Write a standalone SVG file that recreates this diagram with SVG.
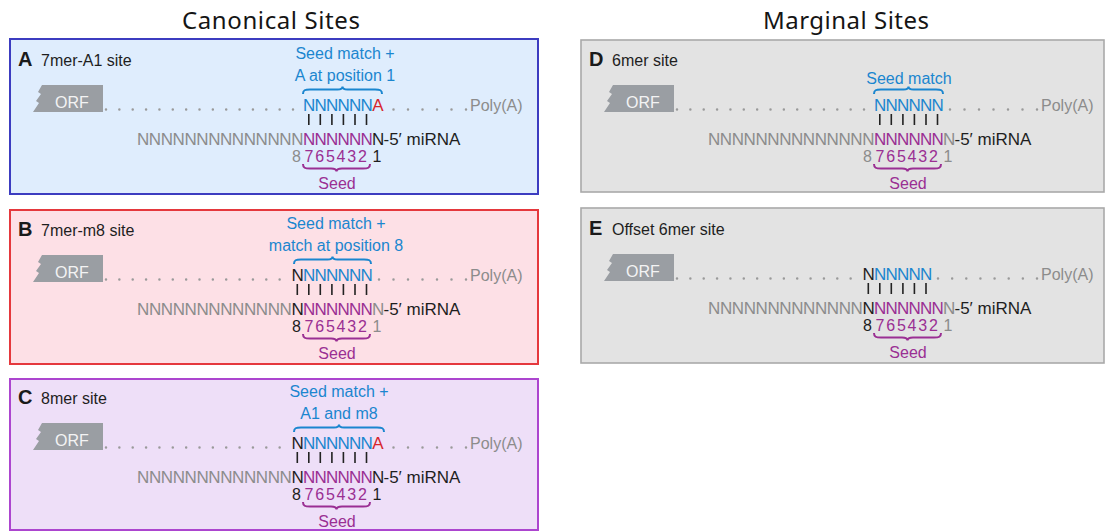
<svg xmlns="http://www.w3.org/2000/svg" xmlns:xlink="http://www.w3.org/1999/xlink" width="1106" height="532" viewBox="0 0 1106 532">
  <style>
    text { font-family: "Liberation Sans", Arial, sans-serif; font-size: 16px; }
    .sq { font-size: 17px; }
    .head { font-family: "Noto Sans", "Open Sans", sans-serif; font-size: 24px; fill: #151515; text-anchor: middle; }
    .lbl { font-size: 20px; font-weight: bold; fill: #1a1a1a; }
    .ttl { fill: #1e1e1e; }
    .ann { fill: #1b86cf; text-anchor: middle; }
    .g { fill: #8c8c8c; }
    .k { fill: #1e1e1e; }
    .b { fill: #1b86cf; }
    .p { fill: #9a2f93; }
    .r { fill: #d7262b; }
    .seedlbl { fill: #9a2f93; text-anchor: middle; }
    .dots { stroke: #9a9a9a; stroke-width: 2.5; stroke-linecap: round; fill: none; }
    .bar { stroke: #222; stroke-width: 1.6; fill: none; }
    .brace-b { fill: none; stroke: #1b86cf; stroke-width: 2; }
    .brace-p { fill: none; stroke: #9a2f93; stroke-width: 2; }
    .fa { fill: #dfedfd; stroke: #3c3cc0; stroke-width: 2; }
    .fb { fill: #fde0e6; stroke: #e5383d; stroke-width: 2; }
    .fc { fill: #eedff8; stroke: #ac45cf; stroke-width: 2; }
    .fd { fill: #e3e3e3; stroke: #a9a9a9; stroke-width: 1.6; }
  </style>
  <defs>
    <!-- torn-edge ORF tag -->
    <g id="orf">
      <polygon points="42,85 103,85 103,112 33,112 39,103 36,101 41,94 38,92" fill="#9a9ea3"/>
      <text x="55" y="108" fill="#f3f3f3">ORF</text>
    </g>
    <!-- seed brace under positions 7-2 -->
    <path id="seed-brace" class="brace-p" d="M303,164 C303,168 305,168.5 310,168.5 L331,168.5 C334.5,168.5 336.5,169 336.5,171.5 C336.5,169 338.5,168.5 342,168.5 L363,168.5 C368,168.5 370,168 370,164"/>
  </defs>

  <text class="head" x="271" y="29" textLength="178" lengthAdjust="spacing">Canonical Sites</text>
  <text class="head" x="846" y="29" textLength="166" lengthAdjust="spacing">Marginal Sites</text>

  <!-- A: 7mer-A1 -->
  <g id="panel-a">
    <rect class="fa" x="10" y="39" width="528" height="155"/>
    <text class="lbl" x="18" y="66">A</text>
    <text class="ttl" x="41" y="66">7mer-A1 site</text>
    <text class="ann" x="345" y="59">Seed match +</text>
    <text class="ann" x="345" y="80.5">A at position 1</text>
    <path class="brace-b" d="M303,94 C303,90 305,89.5 310,89.5 L337.5,89.5 C340.5,89.5 342.5,89 342.5,86.5 C342.5,89 344.5,89.5 347.5,89.5 L375,89.5 C380,89.5 382,90 382,94"/>
    <use xlink:href="#orf"/>
    <line class="dots" x1="106" y1="109.5" x2="293.1" y2="109.5" stroke-dasharray="0 13.357"/>
    <text class="sq" y="111"><tspan class="b" x="303 314.5 326 337.5 349 360.5">NNNNNN</tspan><tspan class="r" x="372.3">A</tspan></text>
    <line class="dots" x1="393.5" y1="109.5" x2="466.1" y2="109.5" stroke-dasharray="0 14.5"/>
    <text class="g" x="470" y="111">Poly(A)</text>
    <path class="bar" d="M308.8,114V125 M320.3,114V125 M331.9,114V125 M343.4,114V125 M355,114V125 M366.5,114V125"/>
    <text class="sq" y="145"><tspan class="g" x="137 148.86 160.71 172.57 184.43 196.29 208.14 220 231.86 243.71 255.57 267.43 279.29 291.14">NNNNNNNNNNNNNN</tspan><tspan class="p" x="303 314.5 326 337.5 349 360.5">NNNNNN</tspan><tspan class="k" x="372 383.5">N-5′ miRNA</tspan></text>
    <text y="162"><tspan class="g" x="292">8</tspan><tspan class="p" x="304.5 315.2 325.9 336.6 347.3 358">765432</tspan><tspan class="k" x="372.5">1</tspan></text>
    <use xlink:href="#seed-brace"/>
    <text class="seedlbl" x="337" y="189">Seed</text>
  </g>

  <!-- B: 7mer-m8 -->
  <g id="panel-b" transform="translate(0,170)">
    <rect class="fb" x="10" y="40" width="528" height="154"/>
    <text class="lbl" x="18" y="66">B</text>
    <text class="ttl" x="41" y="66">7mer-m8 site</text>
    <text class="ann" x="336" y="59">Seed match +</text>
    <text class="ann" x="336" y="80.5">match at position 8</text>
    <path class="brace-b" d="M294,94 C294,90 296,89.5 301,89.5 L327.5,89.5 C330.5,89.5 332.5,89 332.5,86.5 C332.5,89 334.5,89.5 337.5,89.5 L364,89.5 C369,89.5 371,90 371,94"/>
    <use xlink:href="#orf"/>
    <line class="dots" x1="106" y1="109.5" x2="279.7" y2="109.5" stroke-dasharray="0 13.357"/>
    <text class="sq" y="111"><tspan class="k" x="291.5">N</tspan><tspan class="b" x="303 314.5 326 337.5 349 360.5">NNNNNN</tspan></text>
    <line class="dots" x1="379" y1="109.5" x2="466.1" y2="109.5" stroke-dasharray="0 14.5"/>
    <text class="g" x="470" y="111">Poly(A)</text>
    <path class="bar" d="M297.3,114V125 M308.8,114V125 M320.3,114V125 M331.9,114V125 M343.4,114V125 M355,114V125 M366.5,114V125"/>
    <text class="sq" y="145"><tspan class="g" x="137 148.88 160.77 172.65 184.54 196.42 208.31 220.19 232.08 243.96 255.85 267.73 279.62">NNNNNNNNNNNNN</tspan><tspan class="k" x="291.5">N</tspan><tspan class="p" x="303 314.5 326 337.5 349 360.5">NNNNNN</tspan><tspan class="g" x="372">N</tspan><tspan class="k" x="383.5">-5′ miRNA</tspan></text>
    <text y="162"><tspan class="k" x="292">8</tspan><tspan class="p" x="304.5 315.2 325.9 336.6 347.3 358">765432</tspan><tspan class="g" x="372.5">1</tspan></text>
    <use xlink:href="#seed-brace"/>
    <text class="seedlbl" x="337" y="189">Seed</text>
  </g>

  <!-- C: 8mer -->
  <g id="panel-c" transform="translate(0,338)">
    <rect class="fc" x="10" y="41" width="528" height="151"/>
    <text class="lbl" x="18" y="66">C</text>
    <text class="ttl" x="41" y="66">8mer site</text>
    <text class="ann" x="339" y="59">Seed match +</text>
    <text class="ann" x="339" y="80.5">A1 and m8</text>
    <path class="brace-b" d="M294,94 C294,90 296,89.5 301,89.5 L334,89.5 C337,89.5 339,89 339,86.5 C339,89 341,89.5 344,89.5 L377,89.5 C382,89.5 384,90 384,94"/>
    <use xlink:href="#orf"/>
    <line class="dots" x1="106" y1="109.5" x2="279.7" y2="109.5" stroke-dasharray="0 13.357"/>
    <text class="sq" y="111"><tspan class="k" x="291.5">N</tspan><tspan class="b" x="303 314.5 326 337.5 349 360.5">NNNNNN</tspan><tspan class="r" x="372.3">A</tspan></text>
    <line class="dots" x1="393.5" y1="109.5" x2="466.1" y2="109.5" stroke-dasharray="0 14.5"/>
    <text class="g" x="470" y="111">Poly(A)</text>
    <path class="bar" d="M297.3,114V125 M308.8,114V125 M320.3,114V125 M331.9,114V125 M343.4,114V125 M355,114V125 M366.5,114V125"/>
    <text class="sq" y="145"><tspan class="g" x="137 148.88 160.77 172.65 184.54 196.42 208.31 220.19 232.08 243.96 255.85 267.73 279.62">NNNNNNNNNNNNN</tspan><tspan class="k" x="291.5">N</tspan><tspan class="p" x="303 314.5 326 337.5 349 360.5">NNNNNN</tspan><tspan class="k" x="372 383.5">N-5′ miRNA</tspan></text>
    <text y="162"><tspan class="k" x="292">8</tspan><tspan class="p" x="304.5 315.2 325.9 336.6 347.3 358">765432</tspan><tspan class="k" x="372.5">1</tspan></text>
    <use xlink:href="#seed-brace"/>
    <text class="seedlbl" x="337" y="189">Seed</text>
  </g>

  <!-- D: 6mer -->
  <g id="panel-d" transform="translate(571,0)">
    <rect class="fd" x="10" y="40" width="523" height="152"/>
    <text class="lbl" x="18" y="66">D</text>
    <text class="ttl" x="41" y="66">6mer site</text>
    <text class="ann" x="338" y="84">Seed match</text>
    <path class="brace-b" d="M303,94 C303,90 305,89.5 310,89.5 L332.5,89.5 C335.5,89.5 337.5,89 337.5,86.5 C337.5,89 339.5,89.5 342.5,89.5 L365,89.5 C370,89.5 372,90 372,94"/>
    <use xlink:href="#orf"/>
    <line class="dots" x1="106" y1="109.5" x2="293.1" y2="109.5" stroke-dasharray="0 13.357"/>
    <text class="sq" y="111"><tspan class="b" x="303 314.5 326 337.5 349 360.5">NNNNNN</tspan></text>
    <line class="dots" x1="379" y1="109.5" x2="466.1" y2="109.5" stroke-dasharray="0 14.5"/>
    <text class="g" x="470" y="111">Poly(A)</text>
    <path class="bar" d="M308.8,114V125 M320.3,114V125 M331.9,114V125 M343.4,114V125 M355,114V125 M366.5,114V125"/>
    <text class="sq" y="145"><tspan class="g" x="137 148.86 160.71 172.57 184.43 196.29 208.14 220 231.86 243.71 255.57 267.43 279.29 291.14">NNNNNNNNNNNNNN</tspan><tspan class="p" x="303 314.5 326 337.5 349 360.5">NNNNNN</tspan><tspan class="g" x="372">N</tspan><tspan class="k" x="383.5">-5′ miRNA</tspan></text>
    <text y="162"><tspan class="g" x="292">8</tspan><tspan class="p" x="304.5 315.2 325.9 336.6 347.3 358">765432</tspan><tspan class="g" x="372.5">1</tspan></text>
    <use xlink:href="#seed-brace"/>
    <text class="seedlbl" x="337" y="189">Seed</text>
  </g>

  <!-- E: offset 6mer -->
  <g id="panel-e" transform="translate(571,169)">
    <rect class="fd" x="10" y="39" width="523" height="155"/>
    <text class="lbl" x="18" y="66">E</text>
    <text class="ttl" x="41" y="66">Offset 6mer site</text>
    <use xlink:href="#orf"/>
    <line class="dots" x1="106" y1="109.5" x2="279.7" y2="109.5" stroke-dasharray="0 13.357"/>
    <text class="sq" y="111"><tspan class="k" x="291.5">N</tspan><tspan class="b" x="303 314.5 326 337.5 349">NNNNN</tspan></text>
    <line class="dots" x1="367" y1="109.5" x2="466.1" y2="109.5" stroke-dasharray="0 14.143"/>
    <text class="g" x="470" y="111">Poly(A)</text>
    <path class="bar" d="M297.3,114V125 M308.8,114V125 M320.3,114V125 M331.9,114V125 M343.4,114V125 M355,114V125"/>
    <text class="sq" y="145"><tspan class="g" x="137 148.88 160.77 172.65 184.54 196.42 208.31 220.19 232.08 243.96 255.85 267.73 279.62">NNNNNNNNNNNNN</tspan><tspan class="k" x="291.5">N</tspan><tspan class="p" x="303 314.5 326 337.5 349 360.5">NNNNNN</tspan><tspan class="g" x="372">N</tspan><tspan class="k" x="383.5">-5′ miRNA</tspan></text>
    <text y="162"><tspan class="k" x="292">8</tspan><tspan class="p" x="304.5 315.2 325.9 336.6 347.3 358">765432</tspan><tspan class="g" x="372.5">1</tspan></text>
    <use xlink:href="#seed-brace"/>
    <text class="seedlbl" x="337" y="189">Seed</text>
  </g>

  <!-- no connectors beyond the pairing bars drawn inside each panel -->
  <g id="connectors"/>
</svg>
